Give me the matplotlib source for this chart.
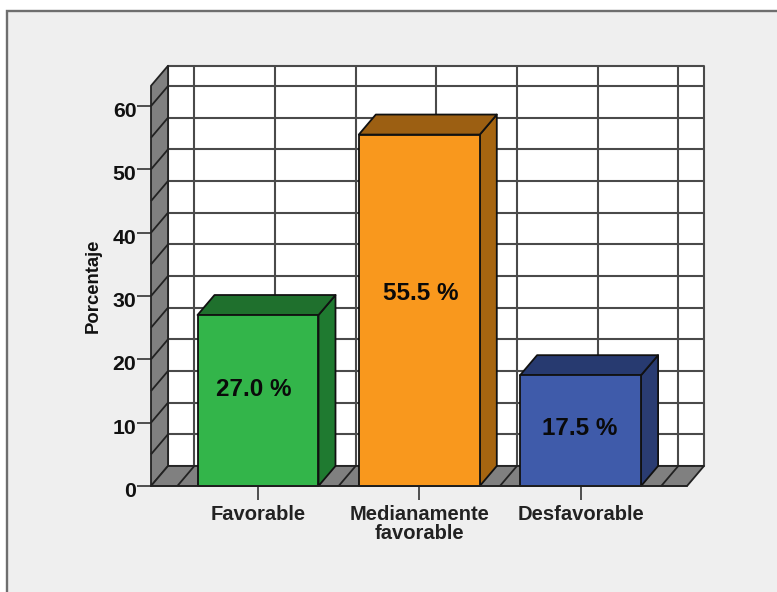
import matplotlib
matplotlib.use('Agg')
import matplotlib.pyplot as plt
from matplotlib.patches import Polygon, Rectangle
from matplotlib.transforms import ScaledTranslation

categories = ['Favorable', 'Medianamente\nfavorable', 'Desfavorable']
values = [27.0, 55.5, 17.5]
yticks = [0, 10, 20, 30, 40, 50, 60]
wall_lines = [5, 10, 15, 20, 25, 30, 35, 40, 45, 50, 55, 60]
x_lines = [-0.5, 0, 0.5, 1, 1.5, 2, 2.5]

front_colors = ['#33B54A', '#F9981D', '#3F5BAA']
side_colors = ['#1F7A30', '#A66510', '#2A3C72']
top_colors = ['#1F702D', '#9C5F12', '#273A70']

# nudges of the value labels, in points
label_dx = [-2.9, 0.7, -0.7]
label_dy = [0.7, 5.0, -5.8]

W, H = 777, 592
plt.rcParams['font.family'] = ['Liberation Sans', 'DejaVu Sans']

fig = plt.figure(figsize=(W / 100, H / 100), dpi=100)

# grey panel with its dark border, runs off the right and bottom edge
panel = Rectangle((7 / W, -0.01), 1.0, 1 - 11.5 / H + 0.01, transform=fig.transFigure,
                  facecolor='#EFEFEF', edgecolor='#6E6E6E', linewidth=1.7, zorder=-1)
fig.add_artist(panel)

# front plane of the 3d box
ax = fig.add_axes([151 / W, 1 - 486 / H, 536 / W, 400.2 / H])
xmin, xmax = (151 - 258) / 161.3, (687 - 258) / 161.3
ymax = 63.2
ax.set_xlim(xmin, xmax)
ax.set_ylim(0, ymax)
ax.patch.set_visible(False)

# depth of the box in data units
dx = 17 / 161.3
dy = 3.16
line = '#4A4A4A'


def poly(points, fc, ec='#222222', lw=1.3, z=2):
    ax.add_patch(Polygon(points, closed=True, facecolor=fc, edgecolor=ec,
                         linewidth=lw, zorder=z, clip_on=False, joinstyle='round'))


def seg(xs, ys, color=line, lw=1.5, z=1.5):
    ax.plot(xs, ys, color=color, lw=lw, zorder=z, clip_on=False, solid_capstyle='butt')


# back wall
poly([(xmin + dx, dy), (xmax + dx, dy), (xmax + dx, ymax + dy), (xmin + dx, ymax + dy)],
     'white', ec=line, lw=1.5, z=1)
for v in wall_lines:
    seg([xmin + dx, xmax + dx], [v + dy, v + dy])
for v in x_lines:
    seg([v + dx, v + dx], [dy, ymax + dy])

# left wall and floor
poly([(xmin, 0), (xmin + dx, dy), (xmin + dx, ymax + dy), (xmin, ymax)], '#808080', z=1.6)
poly([(xmin, 0), (xmax, 0), (xmax + dx, dy), (xmin + dx, dy)], '#808080', z=1.6)
for v in wall_lines:
    seg([xmin, xmin + dx], [v, v + dy], color='#222222', lw=1.3, z=1.7)
for v in x_lines:
    seg([v, v + dx], [0, dy], color='#222222', lw=1.3, z=1.7)

# bars
bar_w = 0.75
for i, v in enumerate(values):
    x0, x1 = i - bar_w / 2, i + bar_w / 2
    poly([(x1, 0), (x1 + dx, dy), (x1 + dx, v + dy), (x1, v)], side_colors[i], ec='#111111', z=3)
    poly([(x0, v), (x1, v), (x1 + dx, v + dy), (x0 + dx, v + dy)], top_colors[i], ec='#111111', z=3)
    poly([(x0, 0), (x1, 0), (x1, v), (x0, v)], front_colors[i], ec='#111111', z=4)
    ax.annotate(f'{v:.1f} %', (i, v / 2 + dy / 2), xytext=(label_dx[i], label_dy[i]),
                textcoords='offset points', ha='center', va='center', fontsize=17.5,
                fontweight='bold', color='#0A0A0A', zorder=5)

for s in ['top', 'right', 'left']:
    ax.spines[s].set_visible(False)
ax.spines['bottom'].set_color('#222222')
ax.spines['bottom'].set_linewidth(1.1)
ax.spines['bottom'].set_zorder(5)

ax.set_xticks(range(len(categories)))
ax.set_xticklabels(categories, fontweight='bold', fontsize=14.5, color='#222222', linespacing=1.0)
ax.set_yticks(yticks)
ax.tick_params(axis='x', length=10, width=1.2, color='#333333', pad=3.5)
ax.tick_params(axis='y', length=10, width=1.2, color='#333333', pad=0.5, labelsize=15.3, labelcolor='#111111')
# tick numbers sit a little below their ticks
shift = ScaledTranslation(0, -3.5 / 100, fig.dpi_scale_trans)
for t in ax.get_yticklabels():
    t.set_fontweight('bold')
    t.set_transform(t.get_transform() + shift)
ax.set_ylabel('Porcentaje', fontweight='bold', fontsize=13.3, color='#111111', labelpad=8)

fig.savefig('out.png', dpi=100, facecolor='white')
